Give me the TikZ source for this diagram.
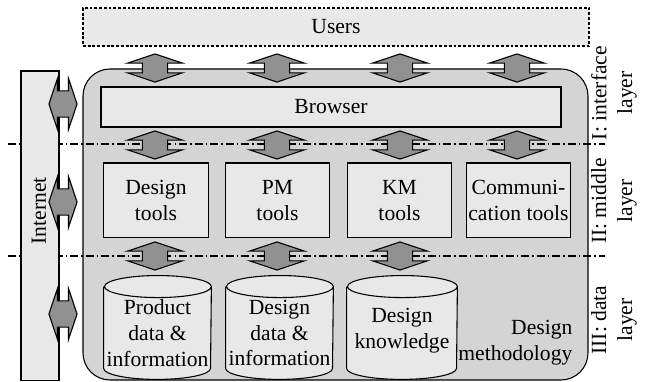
\documentclass[tikz,border=0pt]{standalone}
\usepackage{fontspec}
\setmainfont{Liberation Serif}
\usetikzlibrary{shapes.geometric,shapes.arrows,positioning}
\definecolor{layerbg}{gray}{0.83}
\definecolor{boxbg}{gray}{0.91}
\definecolor{arrowbg}{gray}{0.57}
\tikzset{
    box/.style =    {rectangle,
                    fill=boxbg,
                    draw=black,
                    text=black,
                    line width=0.5pt,
                    align=center,
                    inner sep=0pt},
    tool/.style =   {box,
                    minimum width=48.2pt,
                    minimum height=34.7pt},
    store/.style =  {rectangle,
                    inner sep=0pt,
                    minimum width=#1,
                    minimum height=47.7pt},
    storeline/.style = {fill=boxbg,
                    draw=black,
                    line width=0.5pt},
    content/.style = {align=center,
                    inner sep=0pt},
    link/.style =   {double arrow,
                    fill=arrowbg,
                    draw=black,
                    line width=0.5pt,
                    inner xsep=0pt,
                    double arrow tip angle=143,
                    minimum height=13pt},
    vlink/.style =  {link,
                    rotate=90,
                    inner ysep=5.56pt,
                    double arrow head extend=6.9pt},
    hlink/.style =  {link,
                    inner ysep=5.8pt,
                    double arrow head extend=5.8pt},
    layer/.style =  {rotate=90,
                    align=center,
                    inner sep=0pt},
    cut/.style =    {line width=0.5pt,
                    dash pattern=on 3.7pt off 1.4pt on 0.7pt off 1.4pt}
}

\begin{document}
\begin{tikzpicture}[x=0.463pt,y=0.463pt]
    \useasboundingbox (0,0) rectangle (651,382);
    % frame of the system
    \node[box, fill=layerbg, rounded corners=12.5pt,
          minimum width=233.8pt, minimum height=144pt] (system) at (335.5,157.5) {};
    % layer borders
    \coordinate (cut1w) at (8,238);
    \coordinate (cut1e) at (605,238);
    \coordinate (cut2w) at (8,126);
    \coordinate (cut2e) at (605,126);
    \draw[cut] (cut1w) -- (cut1e);
    \draw[cut] (cut2w) -- (cut2e);

    \node[box, fill=boxbg!96!white, dash pattern=on 1.3pt off 0.9pt,
          minimum width=234.3pt, minimum height=17.6pt] (users) at (336,355) {Users};
    \node[box, minimum width=17.6pt, minimum height=143.5pt] (internet) at (40,156) {};
    \node[rotate=90]    (inetlabel) at (39,171)   {Internet};
    \node[box, minimum width=213pt, minimum height=18.5pt] (browser) at (331,275) {Browser};

    \node[tool]     (design)    at (156,181.5)   {Design\\tools};
    \node[tool]     (pm)        at (277.5,181.5) {PM\\tools};
    \node[tool]     (km)        at (399.5,181.5) {KM\\tools};
    \node[tool]     (comm)      at (518.5,181.5) {Communi-\\cation tools};

    % data stores
    \node[store=49.5pt]   (product)    at (157.5,54.5) {};
    \node[store=49.5pt]   (designdata) at (279.5,54.5) {};
    \node[store=50.9pt]   (knowledge)  at (402,54.5)   {};
    \draw[storeline] ([yshift=-5.1pt]product.north west) -- ([yshift=5.1pt]product.south west)
        arc[start angle=180, end angle=360, x radius=24.75pt, y radius=5.1pt]
        -- ([yshift=-5.1pt]product.north east)
        arc[start angle=0, end angle=360, x radius=24.75pt, y radius=5.1pt];
    \draw[storeline] ([yshift=-5.1pt]designdata.north west) -- ([yshift=5.1pt]designdata.south west)
        arc[start angle=180, end angle=360, x radius=24.75pt, y radius=5.1pt]
        -- ([yshift=-5.1pt]designdata.north east)
        arc[start angle=0, end angle=360, x radius=24.75pt, y radius=5.1pt];
    \draw[storeline] ([yshift=-5.1pt]knowledge.north west) -- ([yshift=5.1pt]knowledge.south west)
        arc[start angle=180, end angle=360, x radius=25.45pt, y radius=5.1pt]
        -- ([yshift=-5.1pt]knowledge.north east)
        arc[start angle=0, end angle=360, x radius=25.45pt, y radius=5.1pt];
    \node[content]  (productlabel)    at (157.5,49) {Product\\data \&\\information};
    \node[content]  (designdatalabel) at (279.5,49) {Design\\data \&\\information};
    \node[content]  (knowledgelabel)  at (402,51)   {Design\\knowledge};

    \node[align=right, anchor=east] (method) at (580,39) {Design\\methodology};

    % links between the layers
    \node[vlink]    (ub1)   at (155,314) {};
    \node[vlink]    (ub2)   at (277,314) {};
    \node[vlink]    (ub3)   at (400,314) {};
    \node[vlink]    (ub4)   at (517,314) {};
    \node[vlink]    (bt1)   at (155,237) {};
    \node[vlink]    (bt2)   at (277,237) {};
    \node[vlink]    (bt3)   at (400,237) {};
    \node[vlink]    (bt4)   at (517,237) {};
    \node[vlink]    (td1)   at (155,126) {};
    \node[vlink]    (td2)   at (277,126) {};
    \node[vlink]    (td3)   at (400,126) {};
    \node[hlink]    (in1)   at (63,278) {};
    \node[hlink]    (in2)   at (63,180) {};
    \node[hlink]    (in3)   at (63,68) {};

    \node[layer]    (l1)    at (614,289) {I: interface\\layer};
    \node[layer]    (l2)    at (614,181) {II: middle\\layer};
    \node[layer]    (l3)    at (614,62)  {III: data\\layer};
\end{tikzpicture}
\end{document}
